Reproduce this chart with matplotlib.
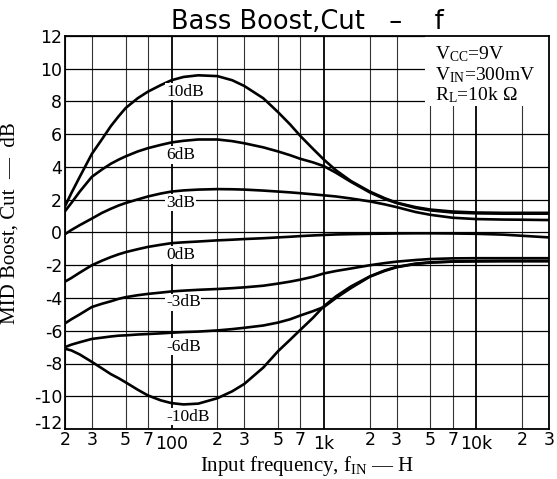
import numpy as np
import matplotlib
matplotlib.use("Agg")
import matplotlib.pyplot as plt
from matplotlib.patches import Rectangle
from matplotlib.ticker import FixedLocator, FixedFormatter

plt.rcParams['mathtext.fontset'] = 'custom'
plt.rcParams['mathtext.rm'] = 'Liberation Serif'
plt.rcParams['mathtext.it'] = 'Liberation Serif:italic'
plt.rcParams['axes.unicode_minus'] = False

# Data (frequency in Hz, level in dB)
freq = [20, 22, 25, 30, 35, 40, 45, 50, 60, 70, 85, 100, 120, 150, 200, 250, 300,
        400, 500, 600, 700, 850, 1000, 1200, 1500, 2000, 2500, 3000, 4000, 5000,
        7000, 10000, 15000, 20000, 30000]

boost_10 = [1.6, 2.4, 3.4, 4.8, 5.7, 6.5, 7.1, 7.6, 8.2, 8.6, 9.0, 9.3, 9.5, 9.6, 9.55,
            9.3, 8.95, 8.2, 7.35, 6.6, 5.9, 5.1, 4.45, 3.8, 3.15, 2.5, 2.1, 1.82, 1.55,
            1.4, 1.28, 1.22, 1.2, 1.2, 1.2]
boost_6 = [1.3, 1.8, 2.5, 3.4, 3.85, 4.2, 4.45, 4.65, 4.95, 5.15, 5.35, 5.5, 5.6, 5.68,
           5.68, 5.58, 5.45, 5.2, 4.95, 4.72, 4.5, 4.28, 4.05, 3.65, 3.1, 2.45, 2.05,
           1.8, 1.5, 1.35, 1.22, 1.17, 1.15, 1.15, 1.15]
boost_3 = [-0.1, 0.15, 0.45, 0.85, 1.2, 1.45, 1.65, 1.8, 2.02, 2.2, 2.38, 2.5, 2.57,
           2.62, 2.65, 2.64, 2.62, 2.56, 2.5, 2.45, 2.4, 2.33, 2.27, 2.2, 2.08, 1.9,
           1.72, 1.55, 1.25, 1.08, 0.9, 0.82, 0.79, 0.78, 0.76]
flat_0 = [-3.0, -2.78, -2.45, -2.0, -1.72, -1.5, -1.33, -1.2, -1.02, -0.88, -0.75,
          -0.65, -0.6, -0.55, -0.48, -0.44, -0.4, -0.35, -0.3, -0.26, -0.22, -0.18,
          -0.15, -0.12, -0.1, -0.08, -0.07, -0.06, -0.05, -0.05, -0.06, -0.08, -0.13,
          -0.2, -0.3]
cut_3 = [-5.55, -5.3, -5.0, -4.55, -4.35, -4.2, -4.05, -3.95, -3.83, -3.75, -3.67,
         -3.6, -3.55, -3.5, -3.45, -3.4, -3.35, -3.25, -3.12, -3.0, -2.88, -2.7, -2.5,
         -2.35, -2.2, -2.0, -1.87, -1.78, -1.68, -1.62, -1.58, -1.57, -1.57, -1.57, -1.57]
cut_6 = [-7.0, -6.85, -6.7, -6.5, -6.42, -6.35, -6.3, -6.28, -6.23, -6.2, -6.16, -6.12,
         -6.08, -6.05, -5.98, -5.9, -5.82, -5.68, -5.5, -5.3, -5.07, -4.8, -4.55, -4.0,
         -3.4, -2.7, -2.35, -2.12, -1.92, -1.84, -1.78, -1.76, -1.75, -1.75, -1.75]
cut_10 = [-7.1, -7.2, -7.45, -7.9, -8.3, -8.65, -8.9, -9.15, -9.6, -9.95, -10.25,
          -10.42, -10.5, -10.45, -10.12, -9.7, -9.25, -8.25, -7.25, -6.55, -5.95, -5.2,
          -4.5, -3.9, -3.3, -2.68, -2.32, -2.1, -1.9, -1.82, -1.77, -1.75, -1.74, -1.74,
          -1.74]

curves = [boost_10, boost_6, boost_3, flat_0, cut_3, cut_6, cut_10]
labels = ["10dB", "6dB", "3dB", "0dB", "-3dB", "-6dB", "-10dB"]
label_y = [8.6, 4.73, 1.82, -1.37, -4.26, -6.97, -11.25]
label_x = 92

major_x = [100, 1000, 10000]
major_lbl = ["100", "1k", "10k"]
minor_x = [20, 30, 50, 70, 200, 300, 500, 700, 2000, 3000, 5000, 7000, 20000, 30000]
minor_lbl = ["2", "3", "5", "7"] * 3 + ["2", "3"]
y_ticks = list(range(-12, 13, 2))

serif = 'Liberation Serif'

fig = plt.figure(figsize=(5.57, 4.79), dpi=100)
ax = fig.add_axes([65 / 557, 1 - 429 / 479, 484 / 557, 393 / 479])
ax.set_xscale('log')
ax.set_xlim(20, 30000)
ax.set_ylim(-12, 12)

# grid
for f in minor_x:
    ax.axvline(f, color='#333333', lw=0.8, zorder=0.5)
for f in major_x:
    ax.axvline(f, color='black', lw=1.3, zorder=0.5)
for v in y_ticks:
    ax.axhline(v, color='black', lw=0.9, zorder=0.5)

# white area behind the conditions text
ax.add_patch(Rectangle((4600, 7.7), 30000 - 4600, 12 - 7.7, facecolor='white',
                       edgecolor='none', zorder=1))

for vals in curves:
    ax.plot(freq, vals, color='black', lw=1.9, zorder=3, solid_capstyle='round',
            solid_joinstyle='round')

for lbl, yy in zip(labels, label_y):
    ax.text(label_x, yy, lbl, family=serif, fontsize=12.5, ha='left', va='center',
            zorder=4, bbox=dict(facecolor='white', edgecolor='none', pad=0.5))

ax.text(0.765, 0.978, r"V$_{\mathrm{CC}}$=9V" "\n" r"V$_{\mathrm{IN}}$=300mV" "\n"
        r"R$_{\mathrm{L}}$=10k $\Omega$", transform=ax.transAxes, family=serif,
        fontsize=14, ha='left', va='top', linespacing=1.05, zorder=4)

ax.xaxis.set_major_locator(FixedLocator(major_x))
ax.xaxis.set_major_formatter(FixedFormatter(major_lbl))
ax.xaxis.set_minor_locator(FixedLocator(minor_x))
ax.xaxis.set_minor_formatter(FixedFormatter(minor_lbl))
ax.set_yticks(y_ticks)
ax.tick_params(axis='both', which='both', length=0, labelsize=12.5)
ax.tick_params(axis='x', which='major', pad=4)
ax.tick_params(axis='x', which='minor', pad=1.5)
ax.tick_params(axis='y', pad=2)
ax.yaxis.get_major_ticks()[0].label1.set_verticalalignment('baseline')

for s in ax.spines.values():
    s.set_linewidth(1.3)

ax.set_title("Bass Boost,Cut   \u2013    f", fontsize=18.5, pad=5)
ax.set_xlabel(r"Input frequency, f$_{\mathrm{IN}}$" + " \u2014 H",
              family=serif, fontsize=15, labelpad=1)
ax.set_ylabel("MID Boost, Cut  \u2014  dB", family=serif, fontsize=15)
ax.yaxis.set_label_coords(-0.094, 0.525)

fig.savefig("out.png", dpi=100)
